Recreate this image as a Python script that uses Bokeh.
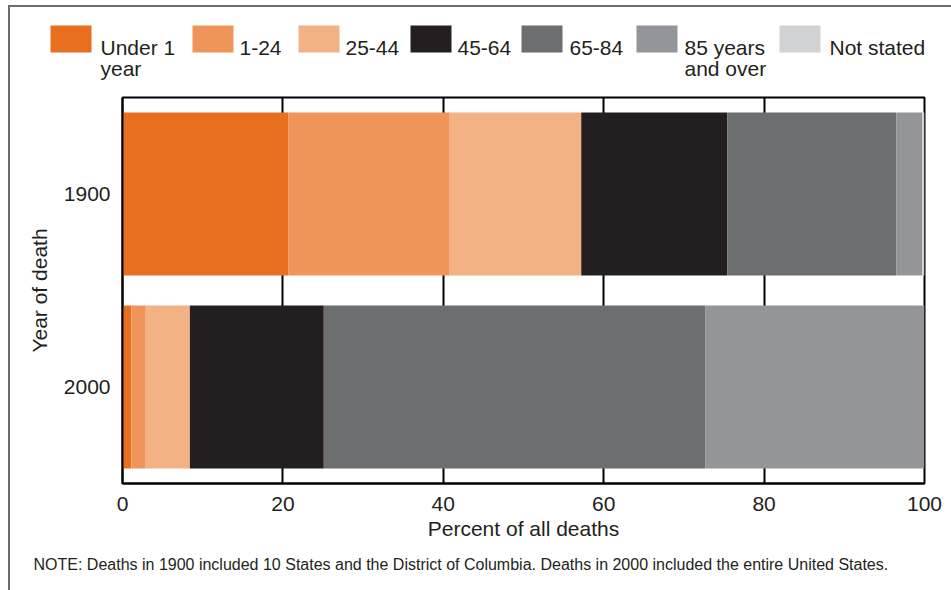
from bokeh.plotting import figure
from bokeh.models import ColumnDataSource, FactorRange, Range1d, FixedTicker, Title
from bokeh.core.properties import value
from bokeh.layouts import column
from bokeh.embed import file_html
from bokeh.resources import INLINE

# ---------------- data ----------------
years = ["1900", "2000"]
age_groups = ["under_1", "age_1_24", "age_25_44", "age_45_64", "age_65_84", "age_85_over", "not_stated"]
legend_labels = ["Under 1\nyear", "1-24", "25-44", "45-64", "65-84", "85 years\nand over", "Not stated"]
under_1 = [20.7, 1.1]
age_1_24 = [20.1, 1.8]
age_25_44 = [16.4, 5.5]
age_45_64 = [18.2, 16.7]
age_65_84 = [21.1, 47.6]
age_85_over = [3.2, 27.3]
not_stated = [0.3, 0.0]
x_ticks = [0, 20, 40, 60, 80, 100]
colors = ["#E86E20", "#F0955A", "#F3B284", "#231F20", "#6D6E70", "#939598", "#D1D2D4"]
note = "NOTE: Deaths in 1900 included 10 States and the District of Columbia. Deaths in 2000 included the entire United States."

source = ColumnDataSource(dict(
    year=years, under_1=under_1, age_1_24=age_1_24, age_25_44=age_25_44,
    age_45_64=age_45_64, age_65_84=age_65_84, age_85_over=age_85_over, not_stated=not_stated,
))

# ---------------- layout ----------------
W = 941
LEG_H = 88
H = 495
FL, FR, FT, FB = 112, 27, 2, 107
FONT = "Liberation Sans"
TXT = "#231F20"
FS = "21px"

# ---- legend strip (pixel-space key: swatch + label per age group) ----
pl = figure(width=W, height=LEG_H, x_range=Range1d(0, W), y_range=Range1d(LEG_H, 0),
            output_backend="svg", toolbar_location=None,
            x_axis_location=None, y_axis_location=None,
            min_border_left=0, min_border_right=0, min_border_top=0, min_border_bottom=0)
pl.frame_align = False
pl.outline_line_color = None
pl.grid.visible = False
pl.background_fill_color = "white"
pl.border_fill_color = "white"

key_swatch_left = [40, 182, 288, 400, 511, 626, 769]
key_text_left = [90, 229, 335, 447, 559, 674, 819]
n = len(colors)
key = ColumnDataSource(dict(
    left=key_swatch_left,
    right=[v + 41 for v in key_swatch_left],
    top=[18] * n,
    bottom=[45] * n,
    tx=key_text_left,
    ty1=[40] * n,
    ty2=[61] * n,
    line1=[lab.split("\n")[0] for lab in legend_labels],
    line2=[lab.split("\n")[1] if "\n" in lab else "" for lab in legend_labels],
    color=colors,
))
pl.quad(left="left", right="right", top="top", bottom="bottom", fill_color="color",
        line_width=0, line_alpha=0, source=key)
pl.text(x="tx", y="ty1", text="line1", source=key, text_font=value(FONT), text_font_size=FS,
        text_color=TXT, text_baseline="alphabetic", text_align="left")
pl.text(x="tx", y="ty2", text="line2", source=key, text_font=value(FONT), text_font_size=FS,
        text_color=TXT, text_baseline="alphabetic", text_align="left")

# ---- main chart ----
p = figure(width=W, height=H, x_range=Range1d(0, 100),
           y_range=FactorRange(factors=["2000", "1900"]),
           output_backend="svg", toolbar_location=None,
           min_border_left=FL, min_border_right=FR, min_border_top=FT, min_border_bottom=FB)
p.frame_align = False
p.background_fill_color = "white"
p.border_fill_color = "white"
p.outline_line_color = "black"
p.outline_line_width = 2

p.hbar_stack(age_groups, y="year", height=0.845, color=colors, line_width=0, source=source)

# x axis
p.xaxis.ticker = FixedTicker(ticks=x_ticks)
p.xaxis.major_tick_line_color = None
p.xaxis.minor_tick_line_color = None
p.xaxis.axis_line_color = "black"
p.xaxis.axis_line_width = 2
p.xaxis.major_label_text_font = FONT
p.xaxis.major_label_text_font_size = FS
p.xaxis.major_label_text_color = TXT
p.xaxis.major_label_standoff = 7
p.xaxis.axis_label = "Percent of all deaths"
p.xaxis.axis_label_text_font = FONT
p.xaxis.axis_label_text_font_size = FS
p.xaxis.axis_label_text_font_style = "normal"
p.xaxis.axis_label_text_color = TXT
p.xaxis.axis_label_standoff = 3

# y axis
p.yaxis.major_tick_line_color = None
p.yaxis.minor_tick_line_color = None
p.yaxis.axis_line_color = "black"
p.yaxis.axis_line_width = 2
p.yaxis.major_label_text_font = FONT
p.yaxis.major_label_text_font_size = FS
p.yaxis.major_label_text_color = TXT
p.yaxis.major_label_standoff = 6
p.yaxis.axis_label = "Year of death"
p.yaxis.axis_label_text_font = FONT
p.yaxis.axis_label_text_font_size = FS
p.yaxis.axis_label_text_font_style = "normal"
p.yaxis.axis_label_text_color = TXT
p.yaxis.axis_label_standoff = 10

# grid
p.xgrid.ticker = FixedTicker(ticks=x_ticks)
p.xgrid.grid_line_color = "black"
p.xgrid.grid_line_width = 2
p.ygrid.visible = False

# note (below the plot)
p.add_layout(Title(text=note, align="left", offset=-89, text_font=FONT, text_font_size="16px",
                   text_font_style="normal", text_color=TXT, standoff=22), "below")

layout = column(pl, p, spacing=0,
                styles={"margin-left": "8px", "margin-top": "5px",
                        "border-left": "2px solid #6D6D6D", "border-top": "2px solid #6D6D6D"})

open("out.html", "w").write(file_html(layout, INLINE))
